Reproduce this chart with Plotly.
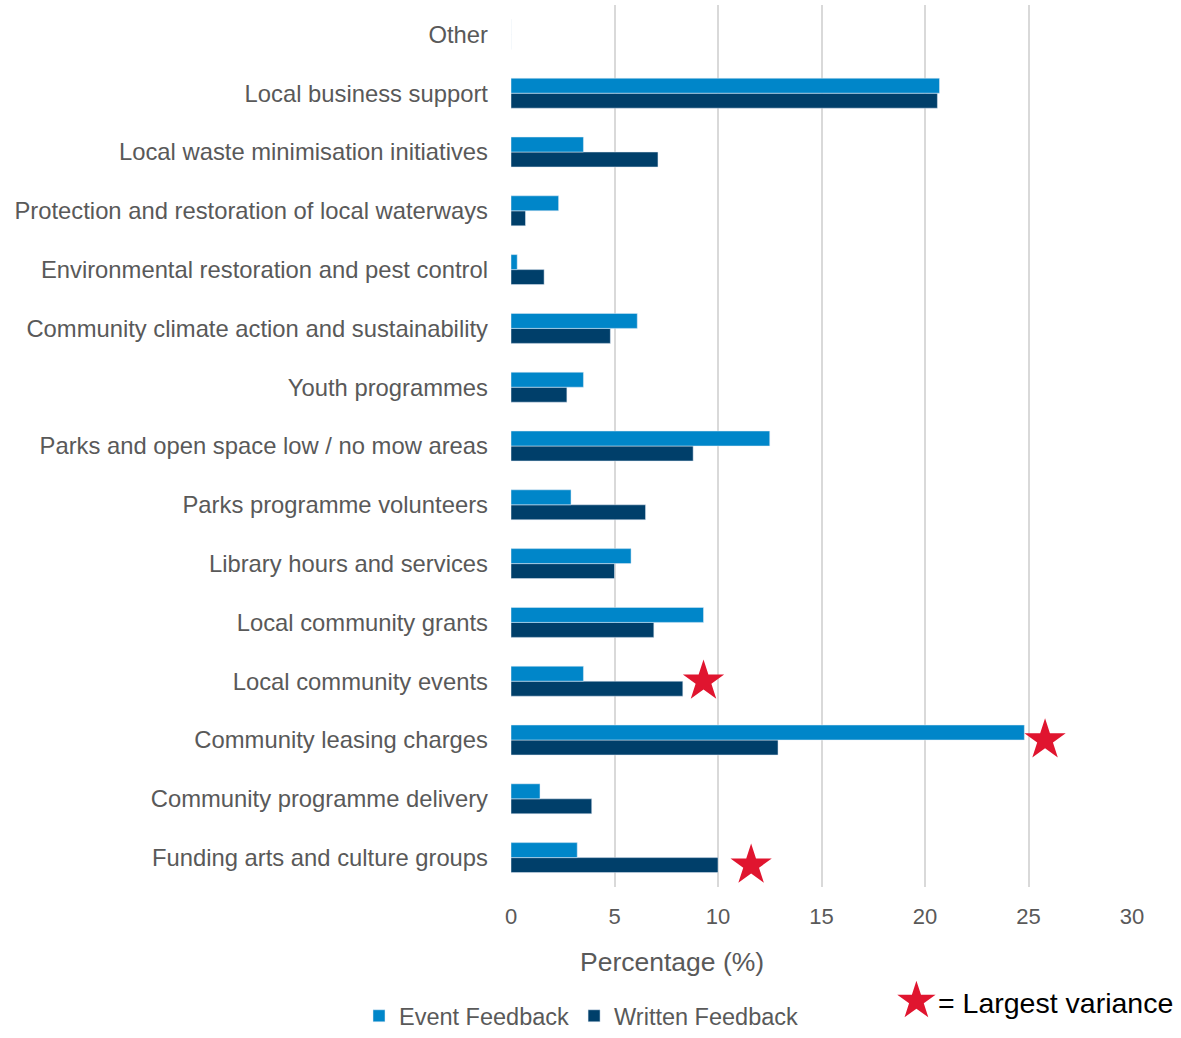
import plotly.graph_objects as go

# categories listed bottom -> top as they appear on the chart
categories = [
    "Funding arts and culture groups",
    "Community programme delivery",
    "Community leasing charges",
    "Local community events",
    "Local community grants",
    "Library hours and services",
    "Parks programme volunteers",
    "Parks and open space low / no mow areas",
    "Youth programmes",
    "Community climate action and sustainability",
    "Environmental restoration and pest control",
    "Protection and restoration of local waterways",
    "Local waste minimisation initiatives",
    "Local business support",
    "Other",
]
event_feedback = [3.2, 1.4, 24.8, 3.5, 9.3, 5.8, 2.9, 12.5, 3.5, 6.1, 0.3, 2.3, 3.5, 20.7, 0]
written_feedback = [10.0, 3.9, 12.9, 8.3, 6.9, 5.0, 6.5, 8.8, 2.7, 4.8, 1.6, 0.7, 7.1, 20.6, 0]
x_ticks = [0, 5, 10, 15, 20, 25, 30]

# categories flagged with the largest variance
largest_variance = ["Local community events", "Community leasing charges",
                    "Funding arts and culture groups"]

EVENT_COLOR = '#0086C9'
WRITTEN_COLOR = '#003F6A'
STAR_COLOR = '#E0152F'
TEXT_COLOR = '#595959'
FONT = 'Liberation Sans, Arial, sans-serif'

# plot area in pixels, used to place paper-referenced text
PLOT_L, PLOT_R, PLOT_T, PLOT_B = 511, 1132, 5, 887
W, H = 1181, 1038


def px_to_paper(px, py):
    return ((px - PLOT_L) / (PLOT_R - PLOT_L), (PLOT_B - py) / (PLOT_B - PLOT_T))


y_pos = list(range(len(categories)))

fig = go.Figure()

# written first so it sits below the event bar inside each group
fig.add_trace(go.Bar(
    y=y_pos, x=written_feedback, orientation='h',
    name='Written Feedback', marker_color=WRITTEN_COLOR,
    legendrank=2
))
fig.add_trace(go.Bar(
    y=y_pos, x=event_feedback, orientation='h',
    name='Event Feedback', marker_color=EVENT_COLOR,
    legendrank=1
))

# stars next to the longest bar of flagged categories
star_x, star_y = [], []
for cat in largest_variance:
    i = categories.index(cat)
    longest = max(event_feedback[i], written_feedback[i])
    if i == 0:
        # bottom star sits level with the written bar
        star_x.append(longest + 1.6)
        star_y.append(i - 0.13)
    else:
        star_x.append(longest + 1.0)
        star_y.append(i)

fig.add_trace(go.Scatter(
    x=star_x, y=star_y, mode='markers',
    marker=dict(symbol='star', size=31, color=STAR_COLOR),
    showlegend=False, hoverinfo='skip'
))

fig.update_layout(
    width=W, height=H,
    margin=dict(l=PLOT_L, r=W - PLOT_R, t=PLOT_T, b=H - PLOT_B),
    plot_bgcolor='white', paper_bgcolor='white',
    barmode='group', bargap=0.49, bargroupgap=0,
    font=dict(family=FONT, size=22, color=TEXT_COLOR),
    showlegend=True,
    legend=dict(
        orientation='h', xref='container', yref='container',
        x=0.5 - 9 / W, xanchor='center', y=0, yanchor='bottom',
        font=dict(size=23.5, color=TEXT_COLOR),
        tracegroupgap=0, borderwidth=0
    ),
)

fig.update_xaxes(
    range=[0, 30], tickvals=x_ticks, showgrid=True, gridcolor='#D9D9D9',
    gridwidth=2, zeroline=False, showline=False,
    ticklabelstandoff=14, tickfont=dict(size=22, color=TEXT_COLOR)
)
fig.update_yaxes(
    range=[-0.5, len(categories) - 0.5], tickvals=y_pos, ticktext=categories,
    showgrid=False, zeroline=False, showline=False,
    ticklabelstandoff=22, tickfont=dict(size=23.8, color=TEXT_COLOR)
)

# axis title sits left of centre in the reference
tx, ty = px_to_paper(672, 962)
fig.add_annotation(
    text='Percentage (%)', xref='paper', yref='paper',
    x=tx, y=ty, xanchor='center', yanchor='middle', showarrow=False,
    font=dict(size=26.5, color=TEXT_COLOR)
)

# star key
sx, sy = px_to_paper(916, 1000)
fig.add_annotation(
    text='★', xref='paper', yref='paper', x=sx, y=sy,
    xanchor='center', yanchor='middle', showarrow=False,
    font=dict(size=50, color=STAR_COLOR, family='DejaVu Sans')
)
kx, ky = px_to_paper(936, 1003)
fig.add_annotation(
    text='= Largest variance', xref='paper', yref='paper', x=kx, y=ky,
    xanchor='left', yanchor='middle', showarrow=False,
    font=dict(size=28.5, color='black', family=FONT)
)

fig.write_html("out.html", config={'displayModeBar': False},
               post_script="document.body.style.margin = '0';")
